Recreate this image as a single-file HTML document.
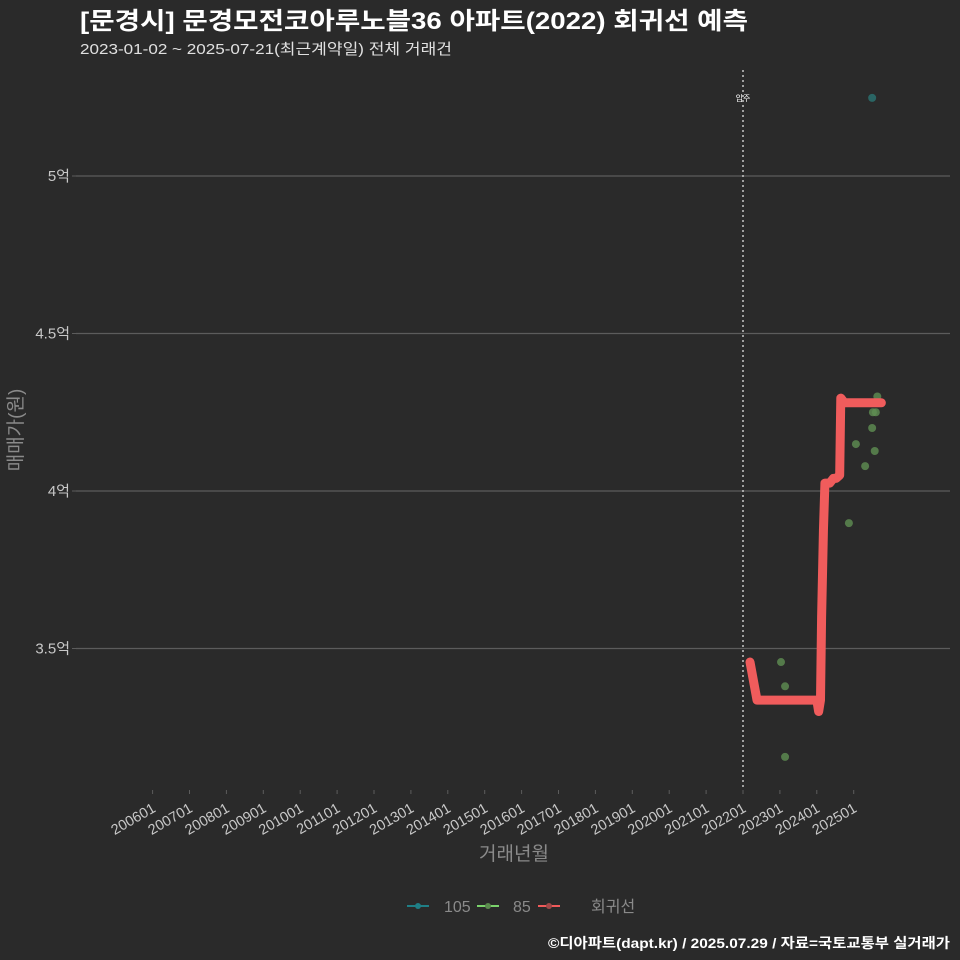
<!DOCTYPE html>
<html><head><meta charset="utf-8"><style>
body{margin:0;background:#2a2a2a;}
svg{display:block;font-family:"Liberation Sans","Noto Sans CJK KR",sans-serif;}
</style></head><body>
<svg id="chart" width="960" height="960" viewBox="0 0 960 960">
<rect width="960" height="960" fill="#2a2a2a"/>
<text x="80" y="29" fill="#ffffff" font-size="24" font-weight="bold" textLength="668" lengthAdjust="spacingAndGlyphs">[문경시] 문경모전코아루노블36 아파트(2022) 회귀선 예측</text>
<text x="80" y="54" fill="#e0e0e0" font-size="15" textLength="372" lengthAdjust="spacingAndGlyphs">2023-01-02 ~ 2025-07-21(최근계약일) 전체 거래건</text>
<g id="grid"></g><g id="axes"></g><g id="marks"></g>
<text transform="translate(22,430) rotate(-90)" text-anchor="middle" fill="#8a8a8a" font-size="19">매매가(원)</text>
<text x="514" y="860" text-anchor="middle" fill="#8a8a8a" font-size="19">거래년월</text>
<g>
<g><line x1="407" y1="906" x2="429" y2="906" stroke="#1f7f86" stroke-width="2"/><circle cx="418" cy="906" r="3" fill="#1f7f86"/><text x="444" y="912" fill="#8a8a8a" font-size="16">105</text></g>
<g><line x1="477" y1="906" x2="499" y2="906" stroke="#7ad36b" stroke-width="2"/><circle cx="488" cy="906" r="3" fill="#5a8a4d"/><text x="513" y="912" fill="#8a8a8a" font-size="16">85</text></g>
<g><line x1="538" y1="906" x2="560" y2="906" stroke="#f05a5a" stroke-width="2"/><circle cx="549" cy="906" r="3" fill="#a04848"/><text x="591" y="912" fill="#8a8a8a" font-size="16">회귀선</text></g>
</g>
<text x="950" y="948" text-anchor="end" fill="#ffffff" font-size="14" font-weight="bold" textLength="402" lengthAdjust="spacingAndGlyphs">©디아파트(dapt.kr) / 2025.07.29 / 자료=국토교통부 실거래가</text>
</svg>
<script>
const yTicks=[3.5,4,4.5,5];
const yTickLabels=["3.5억","4억","4.5억","5억"];
const xTickYears=[2006,2007,2008,2009,2010,2011,2012,2013,2014,2015,2016,2017,2018,2019,2020,2021,2022,2023,2024,2025];
const xTickLabels=["200601","200701","200801","200901","201001","201101","201201","201301","201401","201501","201601","201701","201801","201901","202001","202101","202201","202301","202401","202501"];
const moveInYear=2022.0;
const pts85Date=[2023.03,2023.14,2023.14,2024.87,2025.06,2025.31,2025.50,2025.52,2025.60,2025.64,2025.57];
const pts85Val=[3.457,3.38,3.156,3.898,4.149,4.079,4.20,4.25,4.25,4.30,4.127];
const pts105Date=[2025.50];
const pts105Val=[5.248];
const regDate=[2022.19,2022.38,2022.5,2023.0,2023.5,2024.0,2024.05,2024.1,2024.13,2024.18,2024.22,2024.35,2024.45,2024.52,2024.62,2024.65,2024.75,2025.0,2025.5,2025.75];
const regVal=[3.457,3.336,3.336,3.336,3.336,3.336,3.30,3.336,3.6,3.876,4.025,4.025,4.04,4.04,4.05,4.295,4.28,4.28,4.28,4.28];
const NS="http://www.w3.org/2000/svg";
const X=d=>743+(d-2022)*36.9;
const Y=v=>176+(5-v)*315;
function mk(tag,attrs,parent){const e=document.createElementNS(NS,tag);for(const k in attrs)e.setAttribute(k,attrs[k]);parent.appendChild(e);return e;}
const grid=document.getElementById('grid'),axes=document.getElementById('axes'),marks=document.getElementById('marks');
yTicks.forEach((v,i)=>{
 const l=mk('line',{x1:76,x2:950,y1:Y(v),y2:Y(v),stroke:'#5c5c5c','stroke-width':1.2},grid);
 
 
 mk('line',{x1:72,x2:76,y1:Y(v),y2:Y(v),stroke:'#5c5c5c'},axes);
 const t=mk('text',{x:70,y:Y(v)+5,'text-anchor':'end',fill:'#c8c8c8','font-size':15},axes);
 t.textContent=yTickLabels[i];
 
 
});
xTickYears.forEach((yr,i)=>{
 const x=X(yr);
 mk('line',{x1:x,x2:x,y1:790,y2:794,stroke:'#5c5c5c'},axes);
 const t=mk('text',{x:x+4,y:811,'text-anchor':'end',fill:'#c8c8c8','font-size':14.5,transform:`rotate(-30 ${x+4} 811)`},axes);
 t.textContent=xTickLabels[i];
 
 
});
const ml=mk('line',{x1:X(moveInYear),x2:X(moveInYear),y1:70,y2:790,stroke:'#c8c8c8','stroke-width':1.5,'stroke-dasharray':'2 3'},marks);


const mt=mk('text',{x:X(moveInYear),y:101,'text-anchor':'middle',fill:'#ffffff','font-size':8},marks);
mt.textContent='입주';


pts85Date.forEach((d,i)=>{
 const c=mk('circle',{cx:X(d),cy:Y(pts85Val[i]),r:4,fill:'#5f8f52','fill-opacity':0.8},marks);
 
 
});
pts105Date.forEach((d,i)=>{
 const c=mk('circle',{cx:X(d),cy:Y(pts105Val[i]),r:4,fill:'#2a6b6a','fill-opacity':0.9},marks);
 
 
});
const p=mk('polyline',{points:regDate.map((d,i)=>X(d)+','+Y(regVal[i])).join(' '),fill:'none',stroke:'#f05c5c','stroke-width':9,'stroke-linejoin':'round','stroke-linecap':'round'},marks);


</script>
</body></html>
